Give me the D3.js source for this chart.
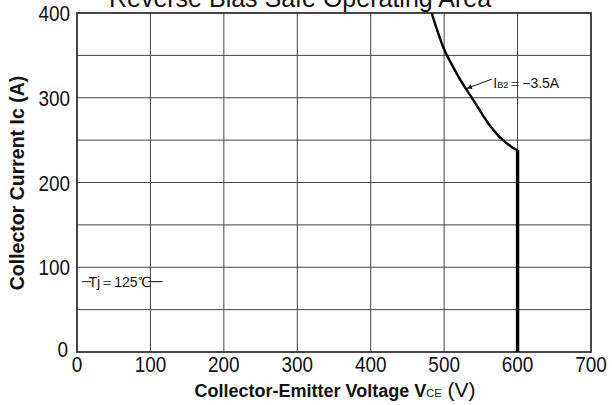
<!DOCTYPE html>
<html lang="en">
  <head>
    <meta charset="utf-8">
    <title>Reverse Bias Safe Operating Area</title>
    <script type="text/javascript" src="https://cdn.jsdelivr.net/npm/d3@7/dist/d3.min.js"></script>
    <style>
    body { margin: 0; background: #fff; }
    text { font-family: "Liberation Sans", Arial, sans-serif; fill: #111; }
    .tick { font-size: 22px; }
    .axis-title { font-weight: bold; font-size: 18px; }
    </style>
  </head>
  <body>
    <script type="text/javascript">
      // values
      var xTicks = [0, 100, 200, 300, 400, 500, 600, 700];
      var yTicks = [0, 100, 200, 300, 400];
      var xGrid = [100, 200, 300, 400, 500, 600];
      var yGrid = [50, 100, 150, 200, 250, 300, 350];
      // RBSOA curve, IB2 = -3.5A (VCE in V, Ic in A)
      var curveV = [483, 490, 500, 510, 520, 540, 560, 580, 592, 600];
      var curveA = [400, 381, 357, 340, 324, 297, 270, 250, 242, 238];
      // vertical limit at 600 V
      var limitV = [600, 600];
      var limitA = [238, 0];

      var w = 612, h = 405;
      var x = d3.scaleLinear().domain([0, 700]).range([77, 591]);
      var y = d3.scaleLinear().domain([0, 400]).range([352, 13]);

      var svg = d3.select("body").append("svg")
                  .attr("width", w)
                  .attr("height", h);

      svg.append("defs").append("marker")
         .attr("id", "arr")
         .attr("viewBox", "0 0 10 10")
         .attr("refX", 10).attr("refY", 5)
         .attr("markerWidth", 7).attr("markerHeight", 5)
         .attr("orient", "auto")
         .attr("markerUnits", "userSpaceOnUse")
         .append("path")
         .attr("d", "M0,0L10,5L0,10z")
         .attr("fill", "#111");

      // grid
      svg.selectAll("line.vg").data(xGrid).enter().append("line")
         .attr("x1", function(d){ return x(d); })
         .attr("x2", function(d){ return x(d); })
         .attr("y1", y(0)).attr("y2", y(400))
         .attr("stroke", "#444").attr("stroke-width", 1);
      svg.selectAll("line.hg").data(yGrid).enter().append("line")
         .attr("y1", function(d){ return y(d); })
         .attr("y2", function(d){ return y(d); })
         .attr("x1", x(0)).attr("x2", x(700))
         .attr("stroke", "#444").attr("stroke-width", 1);

      // frame
      svg.append("rect")
         .attr("x", x(0)).attr("y", y(400))
         .attr("width", x(700) - x(0))
         .attr("height", y(0) - y(400))
         .attr("fill", "none")
         .attr("stroke", "#333")
         .attr("stroke-width", 1.8);

      // curve
      var pts = curveV.map(function(v, i){ return [v, curveA[i]]; });
      var line = d3.line()
                   .x(function(d){ return x(d[0]); })
                   .y(function(d){ return y(d[1]); })
                   .curve(d3.curveMonotoneX);
      svg.append("path")
         .attr("d", line(pts))
         .attr("fill", "none")
         .attr("stroke", "#000")
         .attr("stroke-width", 2.4);
      var lim = limitV.map(function(v, i){ return [v, limitA[i]]; });
      svg.append("path")
         .attr("d", d3.line().x(function(d){ return x(d[0]); }).y(function(d){ return y(d[1]); })(lim))
         .attr("fill", "none")
         .attr("stroke", "#000")
         .attr("stroke-width", 3.4);

      // tick labels (narrow digits, like the datasheet)
      svg.selectAll("text.xt").data(xTicks).enter().append("text")
         .attr("class", "tick")
         .attr("transform", function(d){ return "translate(" + x(d) + ",372) scale(0.86,1)"; })
         .attr("text-anchor", "middle")
         .text(function(d){ return d; });
      svg.selectAll("text.yt").data(yTicks).enter().append("text")
         .attr("class", "tick")
         .attr("transform", function(d){
           return d === 0 ? "translate(68,357) scale(0.86,1)"
                          : "translate(70," + (y(d) + 8) + ") scale(0.86,1)";
         })
         .attr("text-anchor", "end")
         .text(function(d){ return d; });

      // title (cropped at top, as in the source)
      svg.append("text")
         .attr("x", 300).attr("y", 7)
         .attr("text-anchor", "middle")
         .attr("font-size", "25px")
         .text("Reverse Bias Safe Operating Area");

      // axis titles
      var xt = svg.append("text")
         .attr("class", "axis-title")
         .attr("x", 335).attr("y", 397)
         .attr("text-anchor", "middle");
      xt.append("tspan").text("Collector-Emitter Voltage V");
      xt.append("tspan").attr("font-size", "11px").attr("font-weight", "normal").text("CE");
      xt.append("tspan").attr("font-weight", "normal").attr("font-size", "21px").text(" (V)");

      svg.append("text")
         .attr("class", "axis-title")
         .attr("font-size", "19.5px")
         .style("font-size", "19.5px")
         .attr("transform", "translate(24," + 183 + ") rotate(-90)")
         .attr("text-anchor", "middle")
         .text("Collector Current Ic (A)");

      // IB2 annotation
      svg.append("line")
         .attr("x1", x(565)).attr("y1", y(322))
         .attr("x2", x(531)).attr("y2", y(311))
         .attr("stroke", "#111").attr("stroke-width", 1)
         .attr("marker-end", "url(#arr)");
      var ib = svg.append("text")
         .attr("x", x(567)).attr("y", y(311))
         .attr("font-size", "14px");
      ib.append("tspan").text("I");
      ib.append("tspan").attr("font-size", "9px").text("B2");
      ib.append("tspan").text("\uFF1D\u22123.5A");

      // Tj label
      svg.append("line")
         .attr("x1", x(7)).attr("x2", x(117))
         .attr("y1", y(83)).attr("y2", y(83))
         .attr("stroke", "#111").attr("stroke-width", 1);
      svg.append("rect")
         .attr("x", x(19)).attr("y", y(83) - 8)
         .attr("width", x(97) - x(19)).attr("height", 16)
         .attr("fill", "#fff");
      svg.append("text")
         .attr("x", x(58)).attr("y", y(83) + 5)
         .attr("text-anchor", "middle")
         .attr("font-size", "14px")
         .text("Tj\uFF1D125\u2103");
    </script>
  </body>
</html>
